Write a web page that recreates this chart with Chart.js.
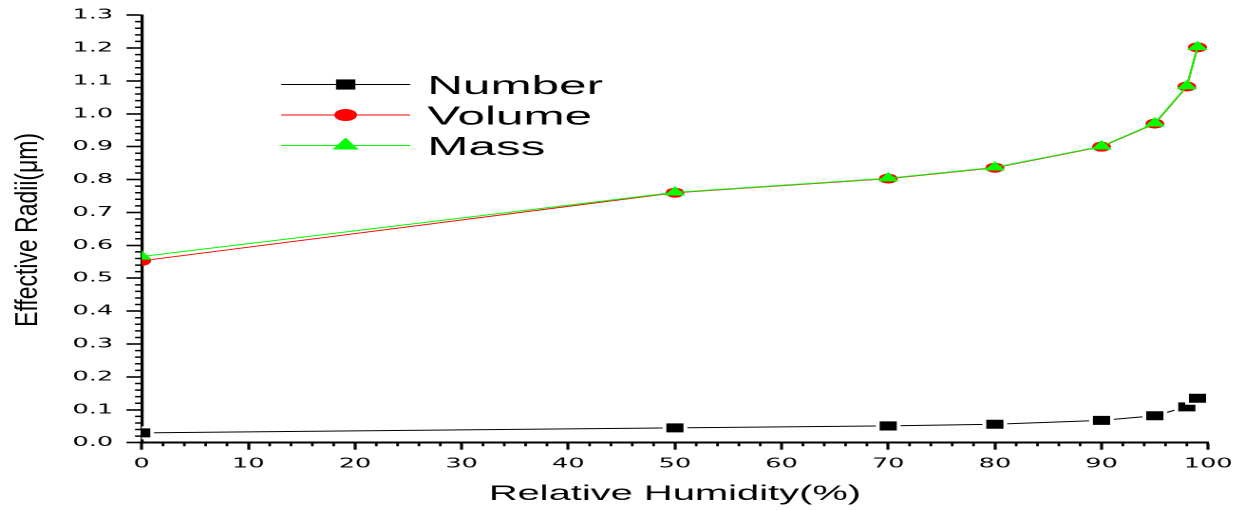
<!DOCTYPE html>
<html>
<head>
<meta charset="utf-8">
<script src="https://cdn.jsdelivr.net/npm/chart.js@4"></script>
<style>
  html, body { margin: 0; padding: 0; background: #fff; }
  #c { display: block; }
</style>
</head>
<body>
<canvas id="c" width="655" height="510" style="width:1244px;height:510px"></canvas>
<script>
// Relative humidity (%) at which the effective radii were computed
const humidity = [0, 50, 70, 80, 90, 95, 98, 99];

// Effective radii (µm) for each moment of the size distribution
const numberRadii = [0.030, 0.045, 0.051, 0.056, 0.068, 0.082, 0.109, 0.135];
const volumeRadii = [0.553, 0.760, 0.803, 0.836, 0.900, 0.970, 1.083, 1.202];
const massRadii   = [0.566, 0.761, 0.804, 0.837, 0.901, 0.971, 1.084, 1.203];

const seriesNames = ['Number', 'Volume', 'Mass'];

// Axis ranges and tick spacing
const xRange = [0, 100];
const yRange = [0, 1.3];
const xMajorStep = 10, xMinorStep = 2;
const yMajorStep = 0.1, yMinorStep = 0.02;

const xTitle = 'Relative Humidity(%)';
const yTitle = 'Effective Radii(\u03bcm)';

const FONT = '"Liberation Sans", Arial, sans-serif';
const TICK_FONT = '"DejaVu Sans", Verdana, sans-serif';

const toPoints = (vals) => vals.map((v, i) => ({ x: humidity[i], y: v }));

// Minor ticks on both axes and the rotated y-axis title
const axisDecor = {
  id: 'axisDecor',
  afterDraw(chart) {
    const { ctx, chartArea: a, scales: { x, y } } = chart;
    ctx.save();
    ctx.strokeStyle = '#000';
    ctx.lineWidth = 1.5;
    ctx.beginPath();
    const nY = Math.round((yRange[1] - yRange[0]) / yMinorStep);
    const perMajorY = Math.round(yMajorStep / yMinorStep);
    for (let i = 0; i <= nY; i++) {
      if (i % perMajorY === 0) continue;
      const py = y.getPixelForValue(yRange[0] + i * yMinorStep);
      ctx.moveTo(a.left, py);
      ctx.lineTo(a.left - 3.5, py);
    }
    ctx.stroke();
    ctx.lineWidth = 1.4;
    ctx.beginPath();
    const nX = Math.round((xRange[1] - xRange[0]) / xMinorStep);
    const perMajorX = Math.round(xMajorStep / xMinorStep);
    for (let i = 0; i <= nX; i++) {
      if (i % perMajorX === 0) continue;
      const px = x.getPixelForValue(xRange[0] + i * xMinorStep);
      ctx.moveTo(px, a.bottom);
      ctx.lineTo(px, a.bottom + 3.5);
    }
    ctx.stroke();

    // y-axis title, set in a condensed style
    ctx.translate(19.3, (a.top + a.bottom) / 2 + 1);
    ctx.rotate(-Math.PI / 2);
    ctx.scale(1.35, 1);
    ctx.fillStyle = '#000';
    ctx.font = '17px ' + FONT;
    ctx.textAlign = 'center';
    ctx.textBaseline = 'alphabetic';
    ctx.fillText(yTitle, 0, 0);
    ctx.restore();
  }
};

// Legend placed inside the plot area, top left
const insideLegend = {
  id: 'insideLegend',
  afterDatasetsDraw(chart) {
    const { ctx } = chart;
    const rows = [84.5, 115, 145.5];
    const lineX0 = 148, lineX1 = 216, markX = 182, textX = 225;
    const legendRadius = { rect: 7.2, circle: 6, triangle: 8 };
    ctx.save();
    chart.data.datasets.forEach((ds, i) => {
      const yy = rows[i];
      ctx.strokeStyle = ds.borderColor;
      ctx.lineWidth = 1;
      ctx.beginPath();
      ctx.moveTo(lineX0, yy);
      ctx.lineTo(lineX1, yy);
      ctx.stroke();
      ctx.fillStyle = ds.pointBackgroundColor;
      Chart.helpers.drawPoint(ctx, {
        pointStyle: ds.pointStyle,
        radius: legendRadius[ds.pointStyle],
        borderWidth: 0,
        rotation: 0
      }, markX, yy);
      ctx.fillStyle = '#000';
      ctx.font = '26px ' + FONT;
      ctx.textAlign = 'left';
      ctx.textBaseline = 'alphabetic';
      ctx.fillText(ds.label, textX, yy + 9.3);
    });
    ctx.restore();
  }
};

new Chart(document.getElementById('c'), {
  type: 'line',
  data: {
    datasets: [
      {
        label: seriesNames[0],
        data: toPoints(numberRadii),
        borderColor: '#000000',
        backgroundColor: '#000000',
        pointBackgroundColor: '#000000',
        pointBorderColor: '#ffffff',
        pointBorderWidth: 2,
        pointStyle: 'rect',
        pointRadius: 7.8,
        borderWidth: 1,
        order: 2
      },
      {
        label: seriesNames[1],
        data: toPoints(volumeRadii),
        borderColor: '#ff0000',
        backgroundColor: '#ff0000',
        pointBackgroundColor: '#ff0000',
        pointBorderWidth: 0,
        pointStyle: 'circle',
        pointRadius: 5,
        borderWidth: 1,
        order: 1
      },
      {
        label: seriesNames[2],
        data: toPoints(massRadii),
        borderColor: '#00ff00',
        backgroundColor: '#00ff00',
        pointBackgroundColor: '#00ff00',
        pointBorderWidth: 0,
        pointStyle: 'triangle',
        pointRadius: 6.3,
        borderWidth: 1,
        order: 0
      }
    ]
  },
  options: {
    responsive: false,
    devicePixelRatio: 2,
    animation: false,
    events: [],
    layout: { padding: { top: 14.7, right: 18.2, left: 0, bottom: 0 } },
    plugins: { legend: { display: false }, tooltip: { enabled: false } },
    elements: { line: { tension: 0 } },
    scales: {
      x: {
        type: 'linear',
        min: xRange[0],
        max: xRange[1],
        afterFit: (s) => { s.height = 67.3; },
        border: { display: true, color: '#000', width: 2 },
        grid: { drawOnChartArea: false, drawTicks: true, tickLength: 7, tickWidth: 1.6, tickColor: '#000' },
        ticks: {
          stepSize: xMajorStep,
          color: '#000',
          padding: 6,
          maxRotation: 0,
          font: { family: TICK_FONT, size: 13.5 },
          callback: (v) => String(v)
        },
        title: {
          display: true,
          text: xTitle,
          color: '#000',
          font: { family: FONT, size: 21 },
          padding: { top: 0, bottom: 3 }
        }
      },
      y: {
        type: 'linear',
        min: yRange[0],
        max: yRange[1],
        afterFit: (s) => { s.width = 74.6; },
        border: { display: true, color: '#000', width: 1.6 },
        grid: { drawOnChartArea: false, drawTicks: true, tickLength: 8, tickWidth: 1.6, tickColor: '#000' },
        ticks: {
          stepSize: yMajorStep,
          color: '#000',
          padding: 7,
          font: { family: TICK_FONT, size: 13.5 },
          callback: (v) => Number(v).toFixed(1)
        }
      }
    }
  },
  plugins: [axisDecor, insideLegend]
});
</script>
</body>
</html>
